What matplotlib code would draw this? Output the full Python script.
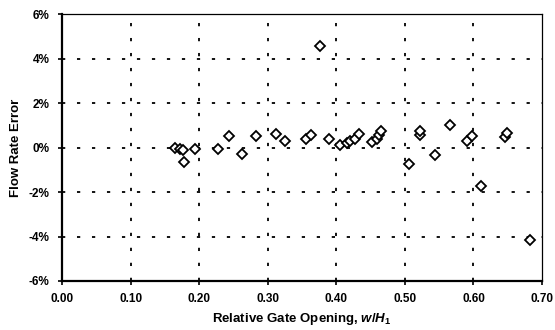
import matplotlib
matplotlib.use('Agg')
import matplotlib.pyplot as plt
import numpy as np
from matplotlib.ticker import FuncFormatter

plt.rcParams['font.family'] = ['Liberation Sans', 'DejaVu Sans']
plt.rcParams['mathtext.fontset'] = 'custom'
plt.rcParams['mathtext.it'] = 'Liberation Sans:bold:italic'
plt.rcParams['mathtext.rm'] = 'Liberation Sans:bold'

# relative gate opening w/H1 and flow rate error (%)
gate_opening = [0.165, 0.172, 0.176, 0.178, 0.194, 0.227, 0.243, 0.262, 0.283,
                0.312, 0.325, 0.356, 0.363, 0.376, 0.389, 0.405, 0.415, 0.420,
                0.427, 0.433, 0.452, 0.459, 0.462, 0.465, 0.506, 0.522, 0.522,
                0.544, 0.566, 0.590, 0.598, 0.611, 0.646, 0.649, 0.682]
flow_error = [0.0, -0.05, -0.1, -0.65, -0.05, -0.05, 0.5, -0.3, 0.5,
              0.6, 0.3, 0.4, 0.55, 4.55, 0.4, 0.1, 0.2, 0.3,
              0.4, 0.6, 0.25, 0.4, 0.55, 0.75, -0.75, 0.55, 0.75,
              -0.35, 1.0, 0.3, 0.5, -1.75, 0.45, 0.65, -4.15]

x_ticks = [0.0, 0.1, 0.2, 0.3, 0.4, 0.5, 0.6, 0.7]
y_ticks = [-6, -4, -2, 0, 2, 4, 6]

fig = plt.figure(figsize=(5.55, 3.3), dpi=100)
ax = fig.add_axes([0.1117, 0.1485, 0.865, 0.809])

ax.plot(gate_opening, flow_error, linestyle='none', marker='D', markersize=5.5,
        markerfacecolor='white', markeredgecolor='black', markeredgewidth=1.3,
        zorder=3)

ax.set_xlim(0, 0.7)
ax.set_ylim(-6, 6)
ax.set_xticks(x_ticks)
ax.set_yticks(y_ticks)
ax.xaxis.set_major_formatter(FuncFormatter(lambda v, p: '%.2f' % v))
ax.yaxis.set_major_formatter(FuncFormatter(lambda v, p: '%d%%' % round(v)))

# dotted grid, drawn per line
for xv in x_ticks[1:-1]:
    ax.axvline(xv, color='black', lw=1.3, linestyle=(0, (1.8, 6.5)), zorder=1)
for yv in [-4, -2, 0, 2, 4]:
    ax.axhline(yv, color='black', lw=1.3, linestyle=(0, (1.8, 6.5)), zorder=1)

for s in ['left', 'bottom']:
    ax.spines[s].set_linewidth(1.6)
for s in ['top', 'right']:
    ax.spines[s].set_linewidth(0.9)

ax.tick_params(direction='out', length=3, width=1.2, labelsize=8.5, pad=6)
for lab in ax.get_xticklabels() + ax.get_yticklabels():
    lab.set_fontweight('bold')

ax.set_xlabel(r'Relative Gate Opening, $w/H_1$', fontsize=9.5, fontweight='bold', labelpad=4)
ax.set_ylabel('Flow Rate Error', fontsize=9.5, fontweight='bold', labelpad=5)

fig.savefig('out.png', dpi=100)
